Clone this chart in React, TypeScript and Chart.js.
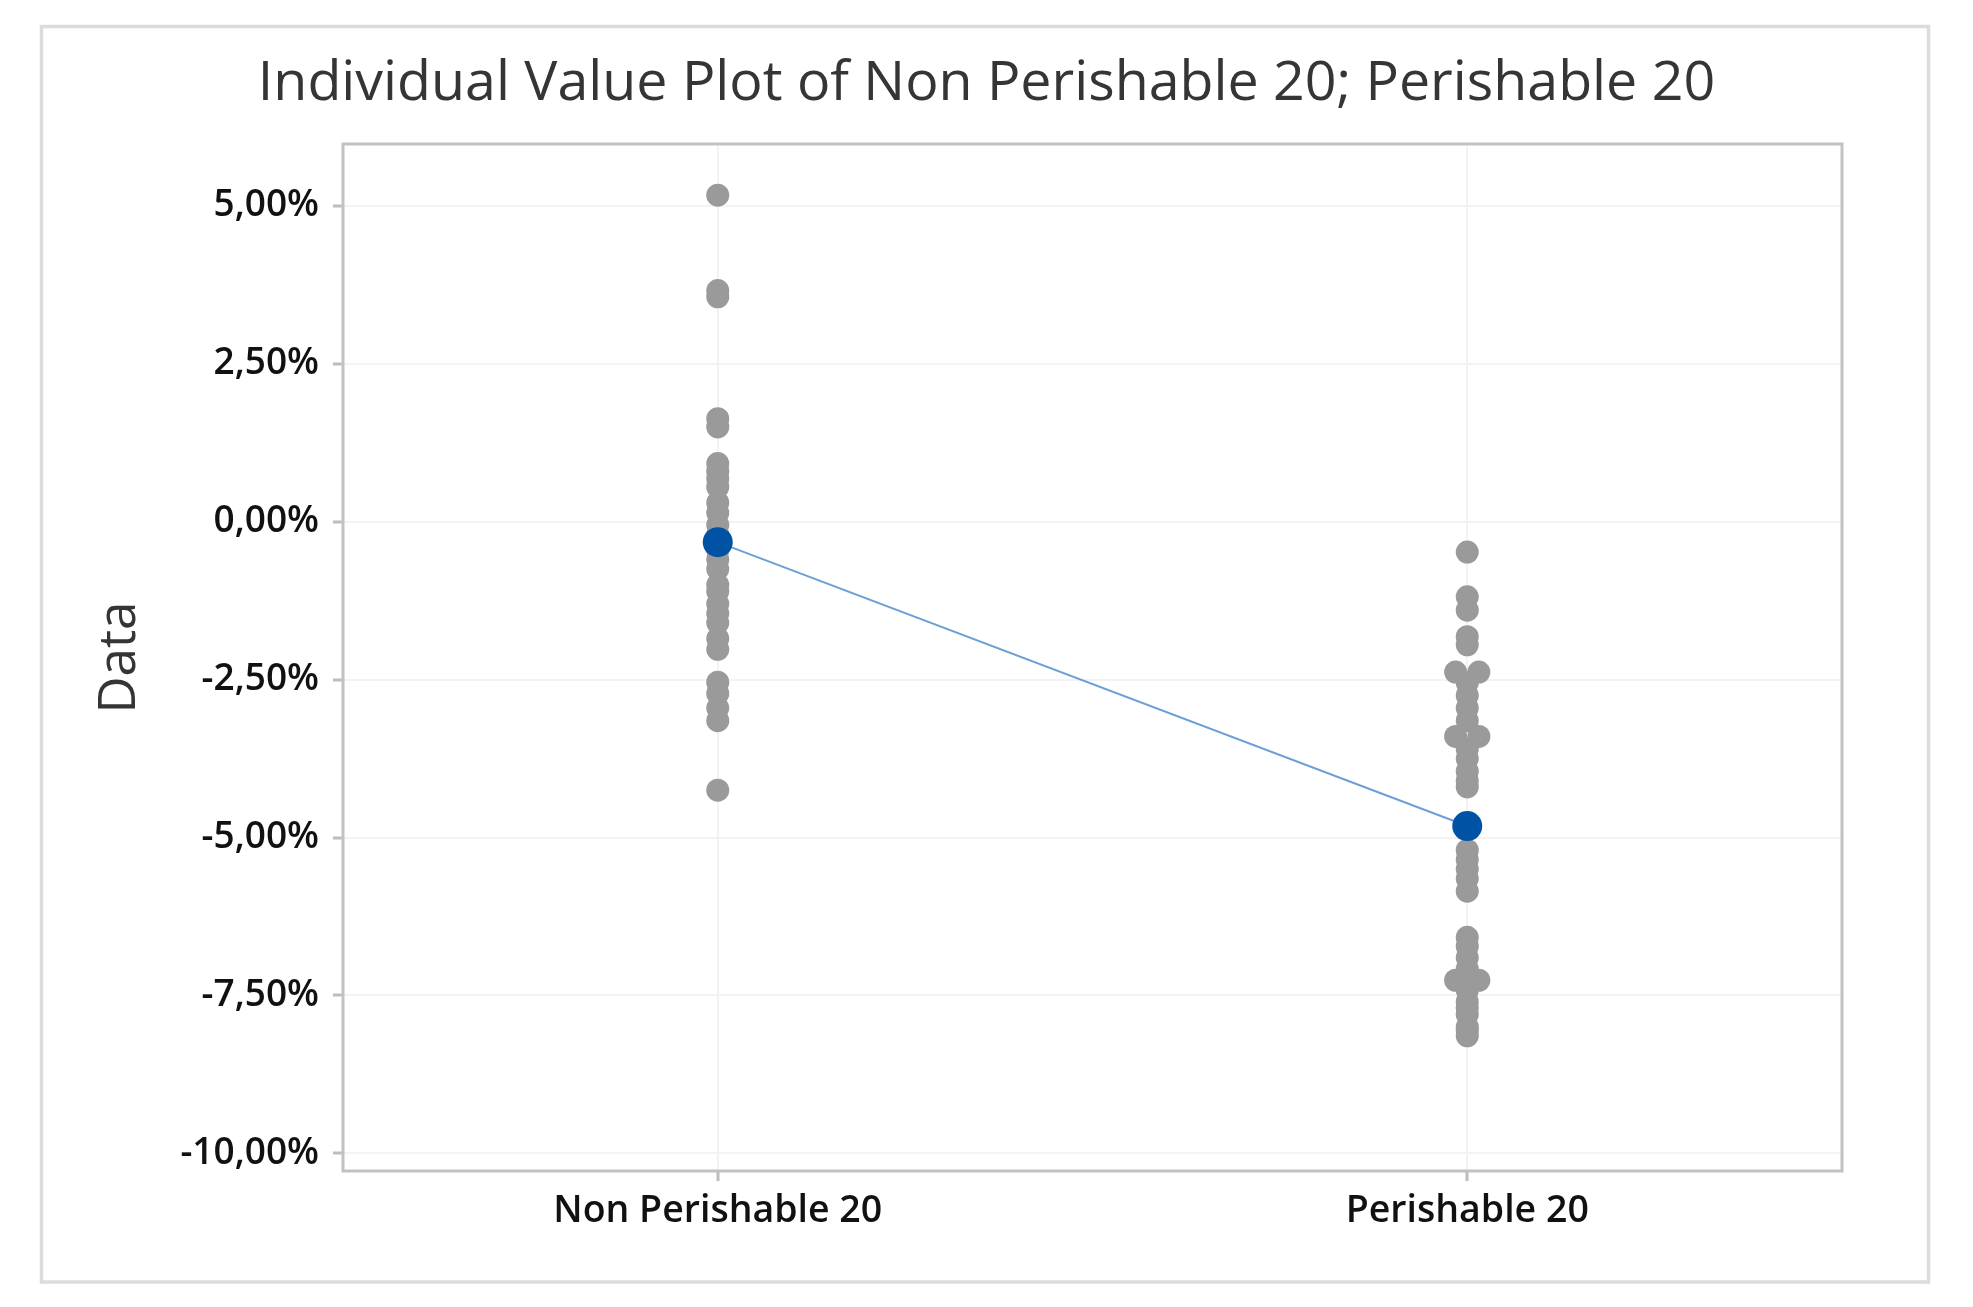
import React, { useEffect, useRef } from "react";
import { Chart, registerables } from "chart.js";

Chart.register(...registerables);

const chartTitle = "Individual Value Plot of Non Perishable 20; Perishable 20";
const yAxisTitle = "Data";
const categories = ["Non Perishable 20", "Perishable 20"];

// Individual values (in %)
const nonPerishable20 = [
  5.17, 3.66, 3.56, 1.63, 1.5, 0.92, 0.8, 0.68, 0.55, 0.3, 0.14, -0.05, -0.2, -0.45,
  -0.6, -0.75, -1.0, -1.1, -1.3, -1.45, -1.6, -1.85, -2.02, -2.54, -2.72, -2.95, -3.15,
  -4.25,
];
const perishable20 = [
  -0.48, -1.19, -1.4, -1.82, -1.95, -2.38, -2.38, -2.55, -2.75, -2.95, -3.15, -3.4, -3.4,
  -3.6, -3.75, -3.95, -4.1, -4.2, -5.2, -5.35, -5.5, -5.65, -5.85, -6.58, -6.72, -6.9,
  -7.08, -7.26, -7.26, -7.42, -7.6, -7.7, -7.8, -8.0, -8.05, -8.14,
];

const yTickValues = [-10, -7.5, -5, -2.5, 0, 2.5, 5];
const yTickLabels = ["-10,00%", "-7,50%", "-5,00%", "-2,50%", "0,00%", "2,50%", "5,00%"];
const yMin = -10.28;
const yMax = 5.98;

const TIE_STEP = 0.031;

function spreadTies(values: number[], catIndex: number) {
  const counts = new Map<number, number>();
  values.forEach((v) => counts.set(v, (counts.get(v) || 0) + 1));
  const seen = new Map<number, number>();
  return values.map((v) => {
    const k = counts.get(v) || 1;
    const j = seen.get(v) || 0;
    seen.set(v, j + 1);
    return { x: catIndex + (j - (k - 1) / 2) * TIE_STEP, y: v };
  });
}

const mean = (a: number[]) => a.reduce((s, v) => s + v, 0) / a.length;

const FONT = "'Open Sans', 'Noto Sans', sans-serif";

const framePlugin = {
  id: "frame",
  beforeDraw(chart: any) {
    const { ctx, width, height } = chart;
    ctx.save();
    ctx.fillStyle = "#ffffff";
    ctx.fillRect(0, 0, width, height);
    ctx.strokeStyle = "#dcdcdc";
    ctx.lineWidth = 3.5;
    ctx.strokeRect(41.5, 26.5, 1887, 1255.5);
    ctx.restore();
  },
  beforeDatasetsDraw(chart: any) {
    const { ctx, chartArea: a } = chart;
    ctx.save();
    ctx.strokeStyle = "#c2c2c2";
    ctx.lineWidth = 3;
    ctx.strokeRect(a.left, a.top, a.right - a.left, a.bottom - a.top);
    ctx.restore();
  },
};

export default function App() {
  const ref = useRef<HTMLCanvasElement | null>(null);

  useEffect(() => {
    document.body.style.margin = "0";
    document.body.style.overflow = "hidden";
    const canvas = ref.current;
    if (!canvas) return;

    const means = [mean(nonPerishable20), mean(perishable20)];

    const chart = new Chart(canvas, {
      type: "scatter",
      data: {
        datasets: [
          {
            type: "line",
            label: "Mean",
            data: means.map((m, i) => ({ x: i, y: m })),
            borderColor: "#6b9fd6",
            borderWidth: 2,
            pointRadius: 15,
            pointBackgroundColor: "#0053a4",
            pointBorderWidth: 0,
            order: 0,
          } as any,
          {
            label: categories[0],
            data: spreadTies(nonPerishable20, 0),
            backgroundColor: "#9a9a9a",
            pointRadius: 11.5,
            borderWidth: 0,
            order: 1,
          },
          {
            label: categories[1],
            data: spreadTies(perishable20, 1),
            backgroundColor: "#9a9a9a",
            pointRadius: 11.5,
            borderWidth: 0,
            order: 1,
          },
        ],
      },
      options: {
        animation: false,
        responsive: false,
        devicePixelRatio: 1,
        events: [],
        layout: { padding: 0 },
        plugins: {
          legend: { display: false },
          tooltip: { enabled: false },
          title: {
            display: true,
            text: chartTitle,
            color: "#353535",
            font: { family: FONT, size: 55.5, weight: "normal" },
            padding: { top: 51, bottom: 26.4 },
          },
        },
        scales: {
          x: {
            type: "linear",
            min: -0.5,
            max: 1.5,
            afterBuildTicks: (scale: any) => {
              scale.ticks = categories.map((_, i) => ({ value: i }));
            },
            afterFit: (scale: any) => {
              scale.height = 136;
            },
            ticks: {
              callback: (v: any) => categories[Math.round(Number(v))] ?? "",
              color: "#111111",
              font: { family: FONT, size: 37.5, weight: 600 },
              padding: 8,
              maxRotation: 0,
            },
            grid: {
              color: "#f3f3f3",
              lineWidth: 2,
              tickColor: "#bdbdbd",
              tickLength: 10,
              tickWidth: 3,
            },
            border: { display: false },
          },
          y: {
            type: "linear",
            min: yMin,
            max: yMax,
            afterBuildTicks: (scale: any) => {
              scale.ticks = yTickValues.map((v) => ({ value: v }));
            },
            afterFit: (scale: any) => {
              scale.width = 343;
            },
            ticks: {
              callback: (v: any) => {
                const i = yTickValues.indexOf(Number(v));
                return i >= 0 ? yTickLabels[i] : "";
              },
              color: "#111111",
              font: { family: FONT, size: 37, weight: 600 },
              padding: 14,
            },
            grid: {
              color: "#f3f3f3",
              lineWidth: 2,
              tickColor: "#bdbdbd",
              tickLength: 10,
              tickWidth: 3,
            },
            border: { display: false },
            title: {
              display: true,
              text: yAxisTitle,
              color: "#353535",
              font: { family: FONT, size: 51, weight: "normal" },
              padding: { top: 90, bottom: 0 },
            },
          },
          yRight: {
            type: "linear",
            position: "right",
            display: true,
            min: yMin,
            max: yMax,
            afterFit: (scale: any) => {
              scale.width = 131;
            },
            ticks: { display: false },
            grid: { display: false },
            border: { display: false },
          },
        },
      } as any,
      plugins: [framePlugin],
    });

    return () => chart.destroy();
  }, []);

  return <canvas ref={ref} width={1973} height={1307} style={{ display: "block" }} />;
}
